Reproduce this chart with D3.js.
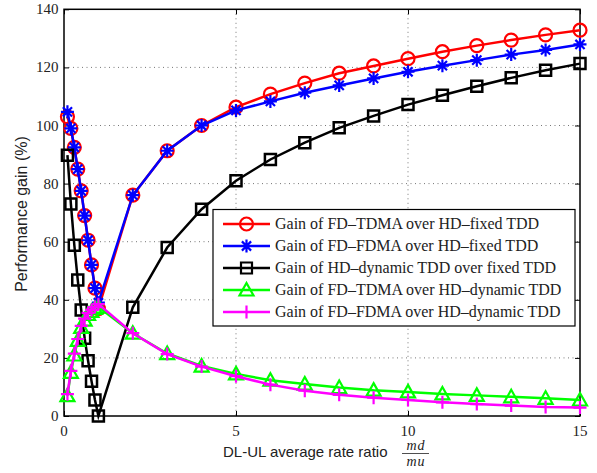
<!DOCTYPE html>
<html>
<head>
<meta charset="utf-8">
<script src="https://cdn.jsdelivr.net/npm/d3@7"></script>
<style>
  body { margin: 0; background: #fff; }
  svg { display: block; }
  .tick-label { font-family: "Liberation Serif", serif; font-size: 15px; fill: #222; }
  .legend-text { font-family: "Liberation Serif", serif; font-size: 16px; fill: #222; }
  .axis-title { font-family: "Liberation Sans", Arial, sans-serif; font-size: 15.5px; fill: #222; }
  .frac { font-family: "Liberation Serif", serif; font-style: italic; font-size: 14px; letter-spacing: 1px; fill: #222; }
</style>
</head>
<body>
<svg id="chart"></svg>
<script>
// x positions (DL-UL rate ratio)
var ratioLow  = [0.1, 0.2, 0.3, 0.4, 0.5, 0.6, 0.7, 0.8, 0.9, 1.0]
var ratioHigh = [2, 3, 4, 5, 6, 7, 8, 9, 10, 11, 12, 13, 14, 15]
var ratios = ratioLow.concat(ratioHigh)

// gains in %
var fdTdmaFixed  = [103, 99, 92.5, 85, 77.5, 69, 60.5, 52, 44, 37,
                    76, 91.3, 100, 106.3, 110.8, 114.6, 118, 120.5, 123, 125.4, 127.5, 129.4, 131.2, 132.8]
var fdFdmaFixed  = [104.7, 99, 92.5, 85, 77.5, 69, 60.5, 52, 44, 39,
                    76, 91.3, 100, 105.2, 108.3, 111.3, 113.8, 116.2, 118.5, 120.6, 122.5, 124.4, 126, 127.9]
var hdDynFixed   = [89.8, 73, 58.8, 46.8, 36.5, 26.8, 19, 12, 5.5, 0,
                    37.4, 58, 71.2, 81, 88.3, 94.1, 99.2, 103.3, 107.2, 110.4, 113.5, 116.4, 119, 121.3]
var fdTdmaDyn    = [7, 15, 21, 26, 30.5, 33, 35, 36, 37, 37.5,
                    28.5, 21.5, 17.2, 14.5, 12.3, 11, 9.8, 8.9, 8.3, 7.6, 7.1, 6.6, 6.1, 5.5]
var fdFdmaDyn    = [7.5, 15.5, 21.5, 26.5, 31, 33.5, 35.5, 36.5, 37.5, 38.5,
                    28.5, 21.3, 17, 13.7, 10.8, 8.7, 7.3, 6.3, 5.5, 4.7, 4.1, 3.6, 3.1, 2.9]

var seriesNames = [
    "Gain of FD\u2013TDMA over HD\u2013fixed TDD",
    "Gain of FD\u2013FDMA over HD\u2013fixed TDD",
    "Gain of HD\u2013dynamic TDD over fixed TDD",
    "Gain of FD\u2013TDMA over HD\u2013dynamic TDD",
    "Gain of FD\u2013FDMA over HD\u2013dynamic TDD"
]
var seriesColors = ["#ff0000", "#0000ff", "#000000", "#00ff00", "#ff00ff"]
var seriesMarkers = ["circle", "star", "square", "triangle", "plus"]

var xTicks = [0, 5, 10, 15]
var yTicks = [0, 20, 40, 60, 80, 100, 120, 140]

var screen = {width: 597, height: 473}
var plot = {left: 64, right: 580, top: 9.3, bottom: 416}

var markerPath = function(type)
{
    if (type == "circle")
        {return "M6.5,0A6.5,6.5 0 1,1 -6.5,0A6.5,6.5 0 1,1 6.5,0Z"}
    else if (type == "star")
        {return "M-6.5,0L6.5,0M0,-6.5L0,6.5M-4.6,-4.6L4.6,4.6M-4.6,4.6L4.6,-4.6"}
    else if (type == "square")
        {return "M-5.5,-5.5L5.5,-5.5L5.5,5.5L-5.5,5.5Z"}
    else if (type == "triangle")
        {return "M0,-7L7,5.5L-7,5.5Z"}
    else
        {return "M-6.5,0L6.5,0M0,-6.5L0,6.5"}
}

var makeGraph = function(target)
{
    target.attr("width", screen.width).attr("height", screen.height)

    var xScale = d3.scaleLinear().domain([0, 15]).range([plot.left, plot.right])
    var yScale = d3.scaleLinear().domain([0, 140]).range([plot.bottom, plot.top])

    // dotted grid
    var grid = target.append("g")
        .attr("stroke", "#777")
        .attr("stroke-width", 1)
        .attr("stroke-dasharray", "1,3.5")
    grid.selectAll(".gx").data(xTicks.slice(1, -1)).enter().append("line")
        .attr("x1", function(d) { return xScale(d) }).attr("x2", function(d) { return xScale(d) })
        .attr("y1", plot.top).attr("y2", plot.bottom)
    grid.selectAll(".gy").data(yTicks.slice(1, -1)).enter().append("line")
        .attr("y1", function(d) { return yScale(d) }).attr("y2", function(d) { return yScale(d) })
        .attr("x1", plot.left).attr("x2", plot.right)

    // axes: ticks on all four sides, pointing inwards
    var axes = target.append("g")
    axes.append("g")
        .attr("transform", "translate(0," + plot.bottom + ")")
        .call(d3.axisBottom(xScale).tickValues(xTicks).tickSize(-5).tickSizeOuter(0).tickFormat(""))
    axes.append("g")
        .attr("transform", "translate(0," + plot.top + ")")
        .call(d3.axisTop(xScale).tickValues(xTicks).tickSize(-5).tickSizeOuter(0).tickFormat(""))
    axes.append("g")
        .attr("transform", "translate(" + plot.left + ",0)")
        .call(d3.axisLeft(yScale).tickValues(yTicks).tickSize(-5).tickSizeOuter(0).tickFormat(""))
    axes.append("g")
        .attr("transform", "translate(" + plot.right + ",0)")
        .call(d3.axisRight(yScale).tickValues(yTicks).tickSize(-5).tickSizeOuter(0).tickFormat(""))
    axes.selectAll(".domain").remove()
    axes.selectAll("line").attr("stroke", "#000").attr("stroke-width", 1)

    target.append("rect")
        .attr("x", plot.left).attr("y", plot.top)
        .attr("width", plot.right - plot.left).attr("height", plot.bottom - plot.top)
        .attr("fill", "none").attr("stroke", "#000").attr("stroke-width", 1.5)

    // tick labels
    target.append("g").selectAll("text").data(xTicks).enter().append("text")
        .classed("tick-label", true)
        .attr("text-anchor", "middle")
        .attr("x", function(d) { return xScale(d) })
        .attr("y", 435.5)
        .text(function(d) { return d })
    target.append("g").selectAll("text").data(yTicks).enter().append("text")
        .classed("tick-label", true)
        .attr("text-anchor", "end")
        .attr("x", 58.5)
        .attr("y", function(d) { return yScale(d) + 5 })
        .text(function(d) { return d })

    // axis titles
    var xTitle = target.append("g")
    xTitle.append("text")
        .classed("axis-title", true)
        .attr("x", 223).attr("y", 457)
        .style("font-size", "15px")
        .text("DL-UL average rate ratio")
    xTitle.append("text")
        .classed("frac", true)
        .attr("x", 416).attr("y", 449.5)
        .attr("text-anchor", "middle")
        .text("md")
    xTitle.append("line")
        .attr("x1", 402).attr("x2", 429).attr("y1", 453.5).attr("y2", 453.5)
        .attr("stroke", "#222").attr("stroke-width", 0.8)
    xTitle.append("text")
        .classed("frac", true)
        .attr("x", 416).attr("y", 466)
        .attr("text-anchor", "middle")
        .text("mu")

    target.append("text")
        .classed("axis-title", true)
        .attr("text-anchor", "middle")
        .attr("transform", "translate(27,214) rotate(-90)")
        .style("font-size", "16px")
        .text("Performance gain (%)")

    // series
    var allSeries = [fdTdmaFixed, fdFdmaFixed, hdDynFixed, fdTdmaDyn, fdFdmaDyn]
    var lineGenerator = d3.line()
        .x(function(d, i) { return xScale(ratios[i]) })
        .y(function(d) { return yScale(d) })

    allSeries.forEach(function(values, s)
    {
        var g = target.append("g")
            .attr("fill", "none")
            .attr("stroke", seriesColors[s])
            .attr("stroke-width", 2.5)
        g.append("path").datum(values).attr("d", lineGenerator)
        g.selectAll(".marker").data(values).enter().append("path")
            .attr("transform", function(d, i) { return "translate(" + xScale(ratios[i]) + "," + yScale(d) + ")" })
            .attr("d", markerPath(seriesMarkers[s]))
            .attr("stroke-width", s == 2 ? 2.5 : 2.2)
    })

    // legend
    var legend = target.append("g")
    legend.append("rect")
        .attr("x", 213).attr("y", 209.5).attr("width", 362).attr("height", 116.5)
        .attr("fill", "#fff").attr("stroke", "#000").attr("stroke-width", 1.2)
    var rows = legend.selectAll(".row").data(seriesNames).enter().append("g")
        .attr("transform", function(d, i) { return "translate(0," + (224 + i * 22) + ")" })
    rows.append("line")
        .attr("x1", 223).attr("x2", 270).attr("y1", 0).attr("y2", 0)
        .attr("stroke", function(d, i) { return seriesColors[i] })
        .attr("stroke-width", 2.5)
    rows.append("path")
        .attr("transform", "translate(246.5,0)")
        .attr("d", function(d, i) { return markerPath(seriesMarkers[i]) })
        .attr("fill", "none")
        .attr("stroke", function(d, i) { return seriesColors[i] })
        .attr("stroke-width", 2.2)
    rows.append("text")
        .classed("legend-text", true)
        .attr("x", 275).attr("y", 5)
        .text(function(d) { return d })
}

makeGraph(d3.select("#chart"))
</script>
</body>
</html>
